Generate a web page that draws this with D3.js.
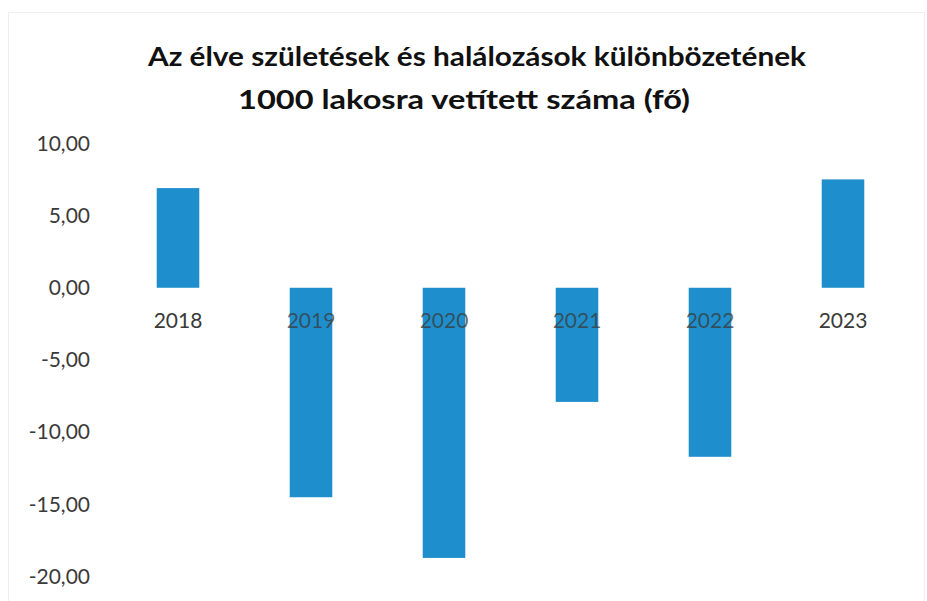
<!DOCTYPE html>
<html>
<head>
<meta charset="utf-8">
<title>Természetes szaporodás</title>
<script src="https://d3js.org/d3.v7.min.js"></script>
<style>
  body { margin: 0; background: #fff; }
  .tick text { font-family: Lato, "Open Sans", sans-serif; fill: #3a3a3a; }
  .title { font-family: Lato, "Liberation Sans", sans-serif; font-weight: bold; fill: #111; }
</style>
</head>
<body>
<svg width="927" height="601"></svg>
<script>
// data
var years = ["2018", "2019", "2020", "2021", "2022", "2023"];
var values = [6.9, -14.5, -18.7, -7.9, -11.7, 7.5];
var yTicks = [10, 5, 0, -5, -10, -15, -20];
var titleLines = ["Az élve születések és halálozások  különbözetének", "1000 lakosra  vetített száma (fő)"];

var svg = d3.select("svg");

// faint frame of the scanned chart area
svg.append("rect")
  .attr("x", 8.5).attr("y", 12.5)
  .attr("width", 916).attr("height", 590)
  .attr("fill", "none").attr("stroke", "#eeeeee");

var x = d3.scaleBand().domain(years).range([111.5, 909.5]).paddingInner(0.68).paddingOuter(0.34);
var y = d3.scaleLinear().domain([-20, 10]).range([576.7, 143.3]);

// title
svg.selectAll("text.title")
  .data(titleLines)
  .enter()
  .append("text")
  .attr("class", "title")
  .attr("x", function(d, i) { return i == 0 ? 477 : 464; })
  .attr("y", function(d, i) { return 66 + i * 43; })
  .attr("text-anchor", "middle")
  .attr("font-size", 27)
  .attr("textLength", function(d, i) { return i == 0 ? 658 : 452; })
  .attr("lengthAdjust", "spacingAndGlyphs")
  .text(function(d) { return d; });

// bars
svg.append("g")
  .selectAll("rect")
  .data(values)
  .enter()
  .append("rect")
  .attr("x", function(d, i) { return x(years[i]); })
  .attr("width", x.bandwidth())
  .attr("y", function(d) { return y(Math.max(0, d)); })
  .attr("height", function(d) { return Math.abs(y(d) - y(0)); })
  .attr("fill", "#1e8fcc");

// y axis (labels only), plain hyphen as minus
var fmt = function(d) { return d3.format(".2f")(d).replace(".", ",").replace("\u2212", "-"); };
var yAxis = d3.axisLeft(y).tickValues(yTicks).tickFormat(fmt).tickSize(0).tickPadding(0);
var yg = svg.append("g").attr("transform", "translate(90,0)").call(yAxis);
yg.select(".domain").remove();
yg.selectAll("text").attr("font-size", 21);

// x axis labels just under the zero line
var xAxis = d3.axisBottom(x).tickSize(0).tickPadding(0);
var xg = svg.append("g").attr("transform", "translate(0," + (y(0) + 25) + ")").call(xAxis);
xg.select(".domain").remove();
xg.selectAll("text").attr("font-size", 21).attr("fill-opacity", function(d, i) { return values[i] < 0 ? 0.75 : 1; });
</script>
</body>
</html>
